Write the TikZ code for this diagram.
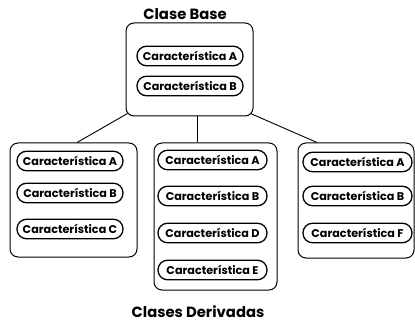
\documentclass[tikz,border=0pt]{standalone}
\usepackage{fontspec}
\setmainfont{Poppins}
\begin{document}
\begin{tikzpicture}[x=1pt,y=-1pt,
  box/.style={draw,line width=1pt,rounded corners=8pt,inner sep=0pt},
  pill/.style={draw,line width=1.3pt,rounded corners=9.5pt,inner sep=0pt,minimum height=19.5pt,font=\fontsize{11.2}{12}\selectfont\bfseries},
  title/.style={inner sep=1pt,font=\fontsize{14.8}{16}\selectfont\bfseries},
  conn/.style={line width=0.9pt}]
\useasboundingbox (0,0) rectangle (415,323);
% boxes
\node[box,minimum width=127pt,minimum height=93pt] (top) at (189.5,69.5) {};
\node[box,minimum width=127pt,minimum height=114pt] (left) at (73.5,200) {};
\node[box,minimum width=123pt,minimum height=147pt] (mid) at (215.5,216.5) {};
\node[box,minimum width=116pt,minimum height=115pt] (right) at (356,200.5) {};
% titles
\node[title] (t1) at (185,14) {Clase Base};
\node[title] (t2) at (198,311.5) {Clases Derivadas};
% pills top
\node[pill,minimum width=106pt] (ta) at (190,56) {Característica A};
\node[pill,minimum width=106pt] (tb) at (190,86) {Característica B};
% pills left
\node[pill,minimum width=106pt] (la) at (70,161) {Característica A};
\node[pill,minimum width=106pt] (lb) at (70,193) {Característica B};
\node[pill,minimum width=106pt] (lc) at (70,229) {Característica C};
% pills middle
\node[pill,minimum width=109pt] (ma) at (212.5,160) {Característica A};
\node[pill,minimum width=109pt] (mb) at (212.5,196) {Característica B};
\node[pill,minimum width=109pt] (md) at (212.5,233) {Característica D};
\node[pill,minimum width=109pt] (me) at (212.5,270) {Característica E};
% pills right
\node[pill,minimum width=109pt] (ra) at (357.5,162) {Característica A};
\node[pill,minimum width=109pt] (rb) at (357.5,196) {Característica B};
\node[pill,minimum width=109pt] (rf) at (357.5,233) {Característica F};
% connectors
\draw[conn] ([shift={(2pt,3pt)}]top.south west) -- ([xshift=3.5pt]left.north);
\draw[conn] ([xshift=7.5pt]top.south) -- ([xshift=-18.5pt]mid.north);
\draw[conn] ([shift={(-3pt,3pt)}]top.south east) -- ([xshift=-39pt]right.north);
\end{tikzpicture}
\end{document}
